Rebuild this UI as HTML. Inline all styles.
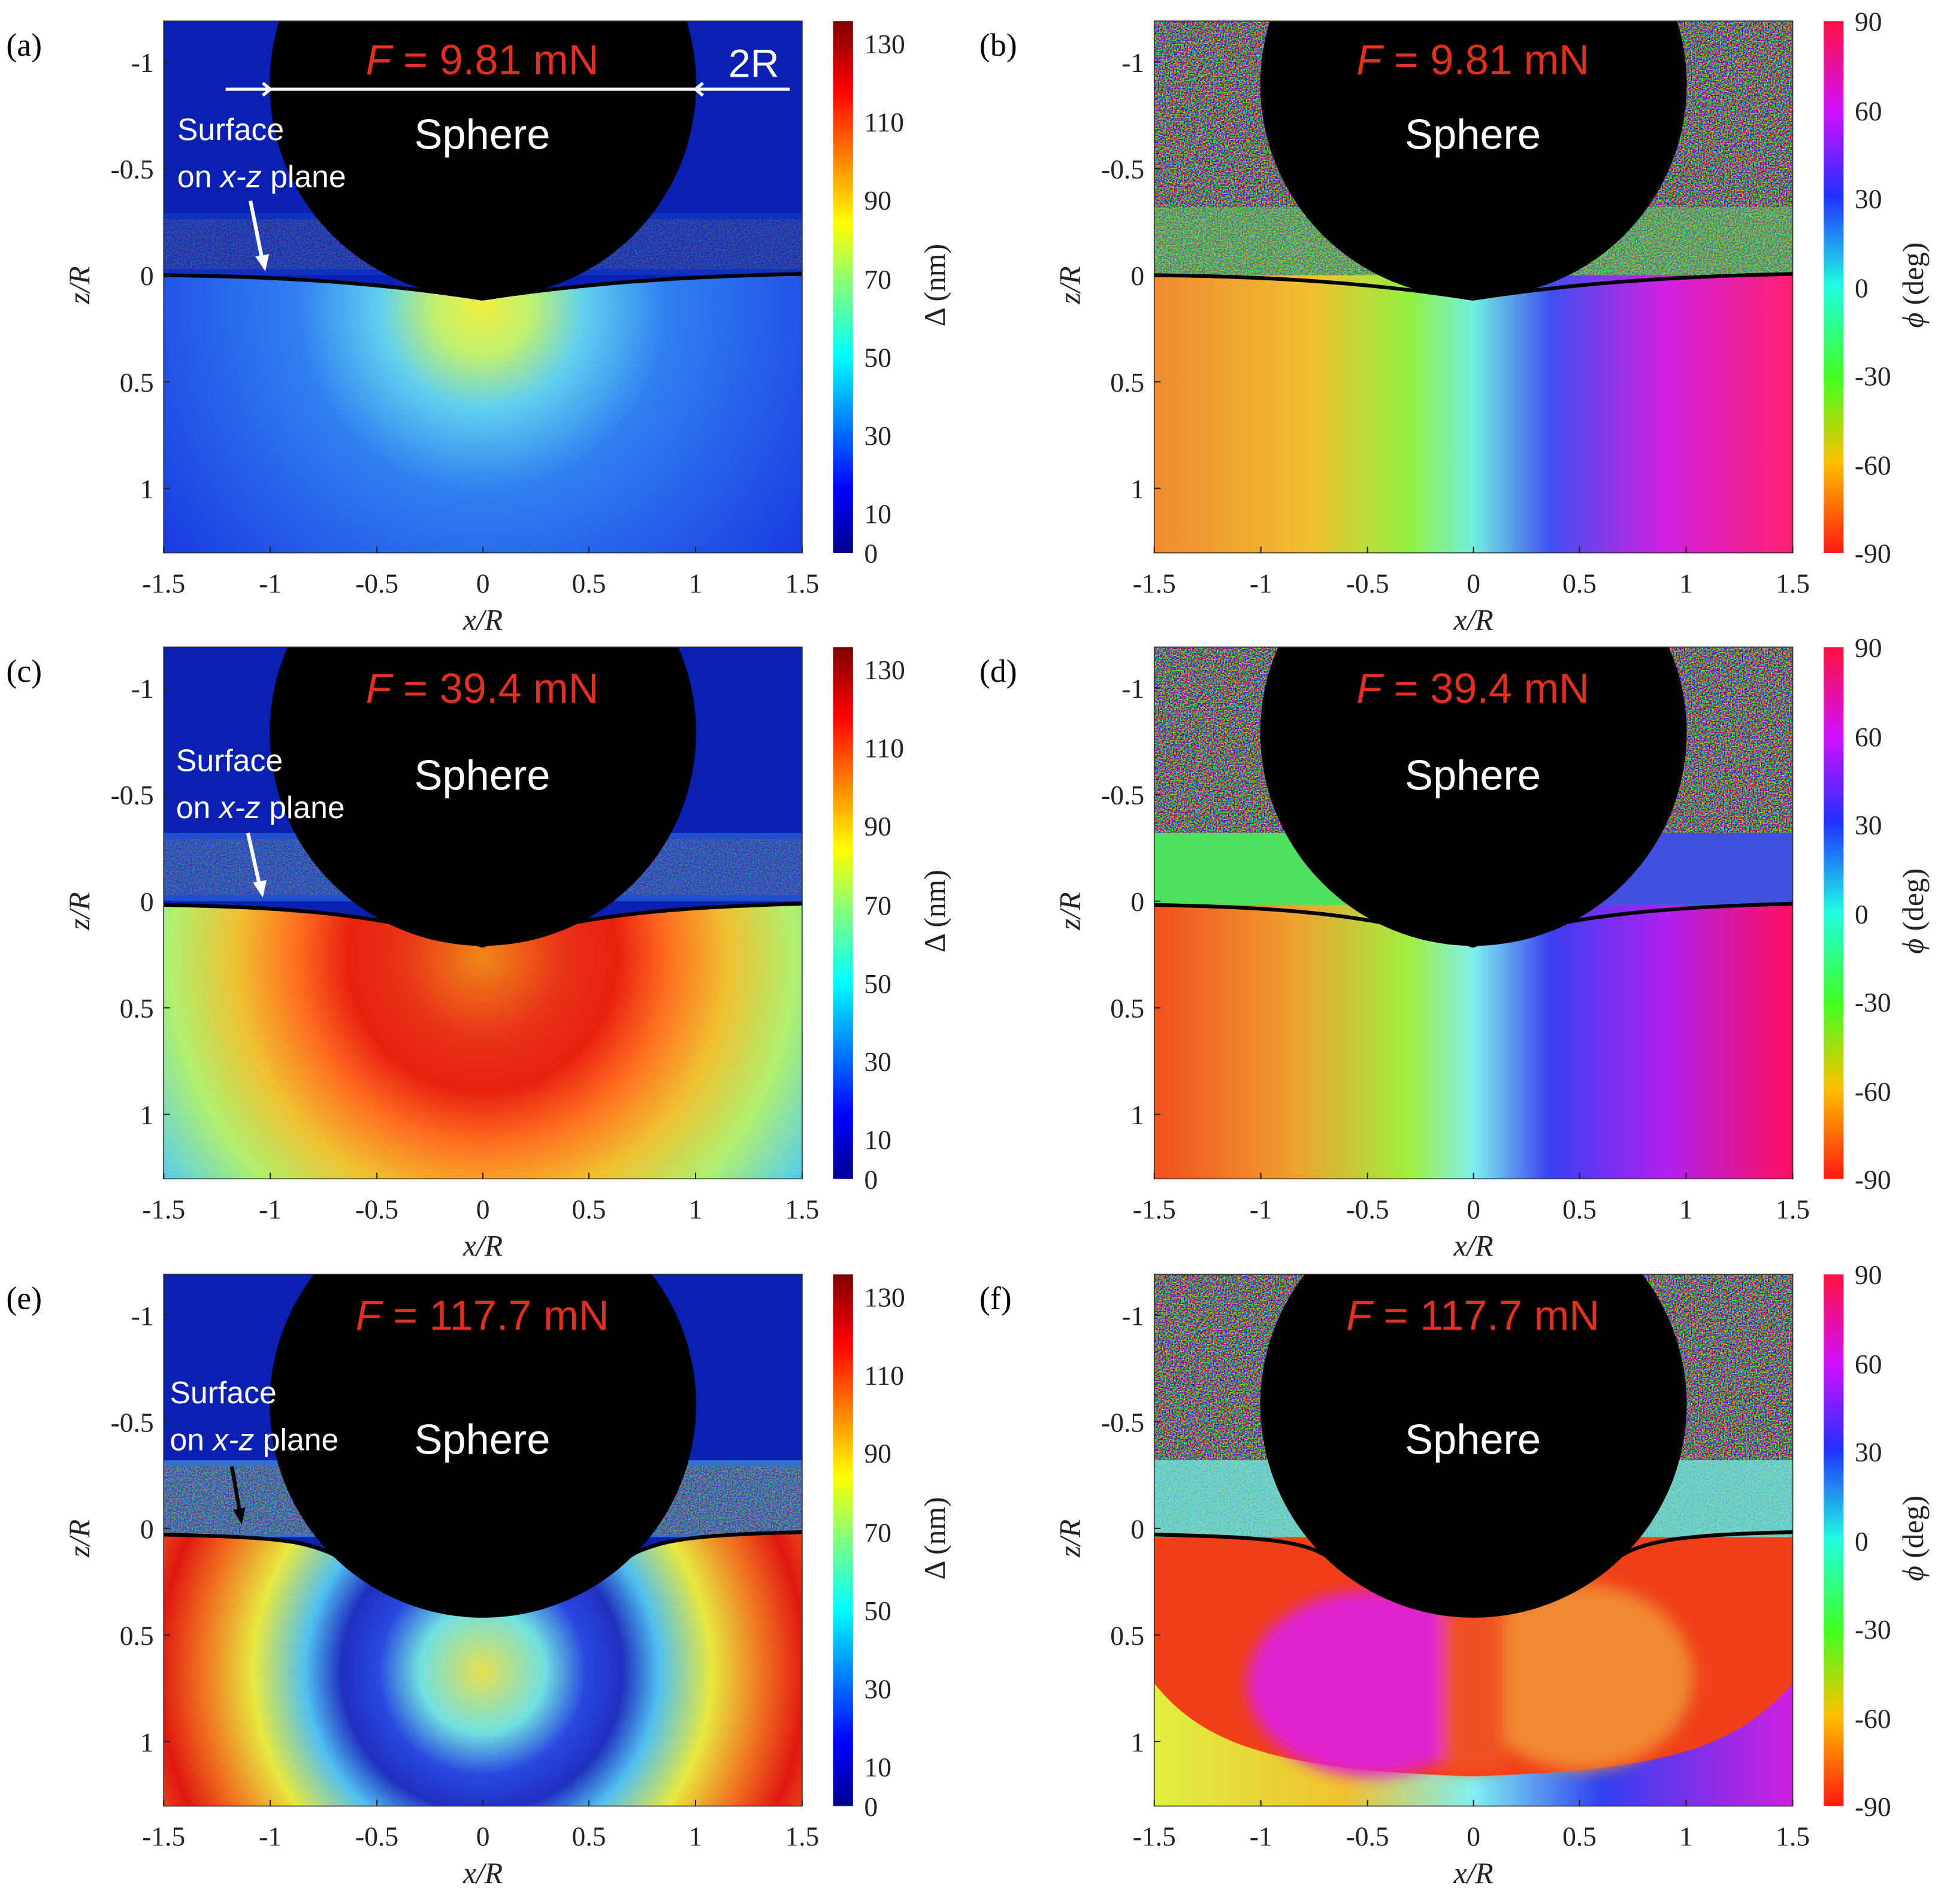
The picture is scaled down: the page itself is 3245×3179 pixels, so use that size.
<!DOCTYPE html>
<html><head><meta charset="utf-8"><style>html,body{margin:0;padding:0;background:#fff}svg{display:block}</style></head>
<body>
<svg width="3245" height="3179" viewBox="0 0 1568 1536" preserveAspectRatio="none" xmlns="http://www.w3.org/2000/svg">
<defs>
<clipPath id="cp"><rect x="0" y="0" width="515" height="429"/></clipPath>
<filter id="noise" x="0" y="0" width="100%" height="100%">
 <feTurbulence type="fractalNoise" baseFrequency="0.9" numOctaves="1" seed="3"/>
 <feColorMatrix type="matrix" values="3 -1 -1 0 -0.3  -1 3 -1 0 -0.3  -1 -1 3 0 -0.3  0 0 0 0 1"/>
</filter>
<filter id="noise2" x="0" y="0" width="100%" height="100%">
 <feTurbulence type="fractalNoise" baseFrequency="0.8" numOctaves="1" seed="7"/>
 <feColorMatrix type="matrix" values="2 0 -1 0 0  0 2 0 0 -0.2  -1 0 2 0 0  0 0 0 0 1"/>
</filter>
<filter id="soft" x="-20%" y="-20%" width="140%" height="140%"><feGaussianBlur stdDeviation="6"/></filter>
<linearGradient id="jet" x1="0" y1="1" x2="0" y2="0">
 <stop offset="0" stop-color="#00008f"/><stop offset="0.12" stop-color="#0000ff"/>
 <stop offset="0.37" stop-color="#00ffff"/><stop offset="0.5" stop-color="#80ff80"/>
 <stop offset="0.62" stop-color="#ffff00"/><stop offset="0.87" stop-color="#ff0000"/>
 <stop offset="1" stop-color="#800000"/></linearGradient>
<linearGradient id="hsv" x1="0" y1="1" x2="0" y2="0">
 <stop offset="0" stop-color="#ff1a10"/><stop offset="0.17" stop-color="#ffc000"/>
 <stop offset="0.33" stop-color="#40ff20"/><stop offset="0.5" stop-color="#20ffe0"/>
 <stop offset="0.67" stop-color="#2030ff"/><stop offset="0.83" stop-color="#d010ff"/>
 <stop offset="1" stop-color="#ff1040"/></linearGradient>
<radialGradient id="ga" gradientUnits="userSpaceOnUse" cx="257" cy="230" r="330" fx="257" fy="230">
 <stop offset="0" stop-color="#f0f040"/><stop offset="0.12" stop-color="#c0f070"/>
 <stop offset="0.25" stop-color="#60d0f0"/><stop offset="0.45" stop-color="#3080f0"/>
 <stop offset="1" stop-color="#1838e0"/></radialGradient>
<radialGradient id="gc" gradientUnits="userSpaceOnUse" cx="257" cy="250" r="360">
 <stop offset="0" stop-color="#f08818"/><stop offset="0.18" stop-color="#e83418"/>
 <stop offset="0.3" stop-color="#e82010"/><stop offset="0.42" stop-color="#ff7020"/>
 <stop offset="0.55" stop-color="#f0c030"/><stop offset="0.7" stop-color="#b0f070"/>
 <stop offset="0.85" stop-color="#60d0e0"/><stop offset="1" stop-color="#3890f0"/></radialGradient>
<radialGradient id="ge" gradientUnits="userSpaceOnUse" cx="257" cy="320" r="420">
 <stop offset="0" stop-color="#e8e050"/><stop offset="0.12" stop-color="#70e0e0"/>
 <stop offset="0.2" stop-color="#2848e0"/><stop offset="0.27" stop-color="#2030c0"/>
 <stop offset="0.34" stop-color="#50c0f0"/><stop offset="0.44" stop-color="#e8e840"/>
 <stop offset="0.54" stop-color="#f07020"/><stop offset="0.62" stop-color="#e01810"/>
 <stop offset="0.72" stop-color="#f07020"/><stop offset="0.85" stop-color="#e8e040"/>
 <stop offset="1" stop-color="#60d0e0"/></radialGradient>
<linearGradient id="gb" gradientUnits="userSpaceOnUse" x1="0" y1="0" x2="515" y2="0">
 <stop offset="0" stop-color="#f08a30"/><stop offset="0.25" stop-color="#f0c030"/>
 <stop offset="0.4" stop-color="#90f040"/><stop offset="0.5" stop-color="#70f0e0"/>
 <stop offset="0.62" stop-color="#4050f0"/><stop offset="0.8" stop-color="#d020e0"/>
 <stop offset="1" stop-color="#ff2070"/></linearGradient>
<linearGradient id="gd" gradientUnits="userSpaceOnUse" x1="0" y1="0" x2="515" y2="0">
 <stop offset="0" stop-color="#f05020"/><stop offset="0.22" stop-color="#f0a030"/>
 <stop offset="0.4" stop-color="#a0f040"/><stop offset="0.5" stop-color="#80f0f0"/>
 <stop offset="0.62" stop-color="#3840f0"/><stop offset="0.8" stop-color="#b020f0"/>
 <stop offset="1" stop-color="#ff1060"/></linearGradient>
<linearGradient id="gfb" gradientUnits="userSpaceOnUse" x1="0" y1="0" x2="515" y2="0">
 <stop offset="0" stop-color="#e0f040"/><stop offset="0.3" stop-color="#f0c030"/>
 <stop offset="0.5" stop-color="#80f0f0"/><stop offset="0.7" stop-color="#3040f0"/>
 <stop offset="1" stop-color="#d020e0"/></linearGradient>

<g id="axes" font-family="Liberation Serif, serif" font-size="22" fill="#222">
 <rect x="0" y="0" width="515" height="429" fill="none" stroke="#333" stroke-width="0.8"/>
 <g stroke="#222" stroke-width="1">
  <path d="M0 429v-5M86 429v-5M172 429v-5M257.5 429v-5M343 429v-5M429 429v-5M515 429v-5M0 33h5M0 119h5M0 205h5M0 291h5M0 377h5"/>
 </g>
 <g text-anchor="middle">
  <text x="0" y="461">-1.5</text><text x="86" y="461">-1</text><text x="172" y="461">-0.5</text>
  <text x="257.5" y="461">0</text><text x="343" y="461">0.5</text><text x="429" y="461">1</text><text x="515" y="461">1.5</text>
  <text x="257.5" y="491" font-style="italic" font-size="24">x/R</text>
 </g>
 <g text-anchor="end">
  <text x="-8" y="41">-1</text><text x="-8" y="127">-0.5</text><text x="-8" y="213">0</text>
  <text x="-8" y="299">0.5</text><text x="-8" y="385">1</text>
 </g>
 <text transform="translate(-60,213) rotate(-90)" text-anchor="middle" font-style="italic" font-size="24">z/R</text>
</g>
<g id="cbj" font-family="Liberation Serif, serif" font-size="22" fill="#222">
 <rect x="540" y="0" width="16" height="429" fill="url(#jet)"/>
 <text x="565" y="26">130</text><text x="565" y="89">110</text><text x="565" y="152">90</text>
 <text x="565" y="216">70</text><text x="565" y="279">50</text><text x="565" y="342">30</text>
 <text x="565" y="405">10</text><text x="565" y="437">0</text>
 <text transform="translate(630,213) rotate(-90)" text-anchor="middle" font-size="24">Δ (nm)</text>
</g>
<g id="cbp" font-family="Liberation Serif, serif" font-size="22" fill="#222">
 <rect x="540" y="0" width="16" height="429" fill="url(#hsv)"/>
 <text x="565" y="8">90</text><text x="565" y="80">60</text><text x="565" y="151">30</text>
 <text x="565" y="223">0</text><text x="565" y="294">-30</text><text x="565" y="366">-60</text><text x="565" y="437">-90</text>
 <text transform="translate(620,213) rotate(-90)" text-anchor="middle" font-size="24"><tspan font-style="italic">ϕ</tspan> (deg)</text>
</g>
</defs>

<!-- (a) -->
<g transform="translate(132,17)">
 <g clip-path="url(#cp)">
  <rect width="515" height="429" fill="#0a20b0"/>
  <rect y="155" width="515" height="50" fill="#1030c0"/>
  <rect y="160" width="515" height="40" filter="url(#noise)" opacity="0.25"/>
  <path d="M0 205 C100 206 180 212 257 224 C335 212 415 206 515 204 V429 H0Z" fill="url(#ga)"/>
  <circle cx="257.5" cy="51" r="172" fill="#000"/>
  <path d="M0 205 C100 206 180 212 257 224 C335 212 415 206 515 204" fill="none" stroke="#000" stroke-width="3"/>
 </g>
 <use href="#axes"/><use href="#cbj"/>
 <text x="-127" y="28" font-family="Liberation Serif, serif" font-size="26">(a)</text>
 <g font-family="Liberation Sans, sans-serif">
  <text x="257" y="43" text-anchor="middle" font-size="34" fill="#e03020"><tspan font-style="italic">F</tspan> = 9.81 mN</text>
  <text x="257" y="103" text-anchor="middle" font-size="34" fill="#fff">Sphere</text>
  <text x="11" y="96" font-size="25" fill="#fff">Surface</text>
  <text x="11" y="134" font-size="25" fill="#fff">on <tspan font-style="italic">x-z</tspan> plane</text>
  <text x="476" y="45" text-anchor="middle" font-size="32" fill="#fff">2R</text>
  <path d="M50 55H86M80 50l6 5-6 5M86 55H429M435 50l-6 5 6 5M429 55H505" stroke="#fff" stroke-width="2.5" fill="none"/>
  <path d="M70 145L80 195" stroke="#fff" stroke-width="3"/><path d="M74 190l8 12 3-14z" fill="#fff"/>
 </g>
</g>

<!-- (b) -->
<g transform="translate(931,17)">
 <g clip-path="url(#cp)">
  <rect width="515" height="429" fill="url(#gb)"/>
  <rect width="515" height="205" filter="url(#noise)"/>
  <rect y="150" width="515" height="55" fill="#60e060" opacity="0.45"/>
  <circle cx="257.5" cy="51" r="172" fill="#000"/>
  <path d="M0 205 C100 206 180 212 257 224 C335 212 415 206 515 204" fill="none" stroke="#000" stroke-width="3"/>
 </g>
 <use href="#axes"/><use href="#cbp"/>
 <text x="-141" y="28" font-family="Liberation Serif, serif" font-size="26">(b)</text>
 <g font-family="Liberation Sans, sans-serif" text-anchor="middle" font-size="34">
  <text x="257" y="43" fill="#e03020"><tspan font-style="italic">F</tspan> = 9.81 mN</text>
  <text x="257" y="103" fill="#fff">Sphere</text>
 </g>
</g>

<!-- (c) -->
<g transform="translate(132,522)">
 <g clip-path="url(#cp)">
  <rect width="515" height="429" fill="#0a20b0"/>
  <rect y="150" width="515" height="55" fill="#2050d0"/>
  <rect y="155" width="515" height="45" filter="url(#noise)" opacity="0.3"/>
  <path d="M0 208 C100 210 180 215 257 241 C335 215 415 210 515 207 V429 H0Z" fill="url(#gc)"/>
  <circle cx="257.5" cy="69" r="172" fill="#000"/>
  <path d="M0 208 C100 210 180 215 257 241 C335 215 415 210 515 207" fill="none" stroke="#000" stroke-width="3"/>
 </g>
 <use href="#axes"/><use href="#cbj"/>
 <text x="-127" y="28" font-family="Liberation Serif, serif" font-size="26">(c)</text>
 <g font-family="Liberation Sans, sans-serif">
  <text x="257" y="45" text-anchor="middle" font-size="34" fill="#e03020"><tspan font-style="italic">F</tspan> = 39.4 mN</text>
  <text x="257" y="115" text-anchor="middle" font-size="34" fill="#fff">Sphere</text>
  <text x="10" y="100" font-size="25" fill="#fff">Surface</text>
  <text x="10" y="138" font-size="25" fill="#fff">on <tspan font-style="italic">x-z</tspan> plane</text>
  <path d="M68 150L78 195" stroke="#fff" stroke-width="3"/><path d="M72 190l8 12 3-14z" fill="#fff"/>
 </g>
</g>

<!-- (d) -->
<g transform="translate(931,522)">
 <g clip-path="url(#cp)">
  <rect width="515" height="429" fill="url(#gd)"/>
  <rect width="515" height="150" filter="url(#noise)"/>
  <rect y="150" width="515" height="58" fill="#50e060"/>
  <rect x="330" y="150" width="185" height="58" fill="#4050e0"/>
  <circle cx="257.5" cy="69" r="172" fill="#000"/>
  <path d="M0 208 C100 210 180 215 257 241 C335 215 415 210 515 207" fill="none" stroke="#000" stroke-width="3"/>
 </g>
 <use href="#axes"/><use href="#cbp"/>
 <text x="-141" y="28" font-family="Liberation Serif, serif" font-size="26">(d)</text>
 <g font-family="Liberation Sans, sans-serif" text-anchor="middle" font-size="34">
  <text x="257" y="45" fill="#e03020"><tspan font-style="italic">F</tspan> = 39.4 mN</text>
  <text x="257" y="115" fill="#fff">Sphere</text>
 </g>
</g>

<!-- (e) -->
<g transform="translate(132,1028)">
 <g clip-path="url(#cp)">
  <rect width="515" height="429" fill="#0a20b0"/>
  <rect y="150" width="515" height="62" fill="#3070d0"/>
  <rect y="155" width="515" height="55" filter="url(#noise)" opacity="0.5"/>
  <path d="M0 210 C90 212 120 215 160 240 C200 270 230 277 257 277 C285 277 315 270 355 240 C395 215 425 210 515 208 V429 H0Z" fill="url(#ge)"/>
  <circle cx="257.5" cy="105" r="172" fill="#000"/>
  <path d="M0 210 C90 212 120 215 140 228" fill="none" stroke="#000" stroke-width="3"/>
  <path d="M375 228 C395 215 425 210 515 208" fill="none" stroke="#000" stroke-width="3"/>
 </g>
 <use href="#axes"/><use href="#cbj"/>
 <text x="-127" y="28" font-family="Liberation Serif, serif" font-size="26">(e)</text>
 <g font-family="Liberation Sans, sans-serif">
  <text x="257" y="45" text-anchor="middle" font-size="34" fill="#e03020"><tspan font-style="italic">F</tspan> = 117.7 mN</text>
  <text x="257" y="145" text-anchor="middle" font-size="34" fill="#fff">Sphere</text>
  <text x="5" y="104" font-size="25" fill="#fff">Surface</text>
  <text x="5" y="142" font-size="25" fill="#fff">on <tspan font-style="italic">x-z</tspan> plane</text>
  <path d="M55 155L62 195" stroke="#000" stroke-width="3"/><path d="M56 190l7 12 3-14z" fill="#000"/>
 </g>
</g>

<!-- (f) -->
<g transform="translate(931,1028)">
 <g clip-path="url(#cp)">
  <rect width="515" height="429" fill="#f04018"/>
  <rect width="515" height="150" filter="url(#noise)"/>
  <rect y="150" width="515" height="62" fill="#40c0d0"/>
  <rect y="150" width="515" height="62" filter="url(#noise2)" opacity="0.4"/>
  <rect y="215" width="515" height="214" fill="#f04018"/>
  <path d="M0 330 L0 429 H515 V330 C470 380 420 400 257 405 C100 400 40 380 0 330Z" fill="url(#gfb)"/>
  <g filter="url(#soft)">
   <ellipse cx="175" cy="330" rx="100" ry="75" fill="#e020d0"/>
   <ellipse cx="345" cy="325" rx="90" ry="75" fill="#f08830"/>
   <rect x="232" y="250" width="50" height="150" fill="#f05020"/>
  </g>
  <circle cx="257.5" cy="105" r="172" fill="#000"/>
  <path d="M0 210 C90 212 120 215 140 228" fill="none" stroke="#000" stroke-width="3"/>
  <path d="M375 228 C395 215 425 210 515 208" fill="none" stroke="#000" stroke-width="3"/>
 </g>
 <use href="#axes"/><use href="#cbp"/>
 <text x="-141" y="28" font-family="Liberation Serif, serif" font-size="26">(f)</text>
 <g font-family="Liberation Sans, sans-serif" text-anchor="middle" font-size="34">
  <text x="257" y="45" fill="#e03020"><tspan font-style="italic">F</tspan> = 117.7 mN</text>
  <text x="257" y="145" fill="#fff">Sphere</text>
 </g>
</g>
</svg>
</body></html>
